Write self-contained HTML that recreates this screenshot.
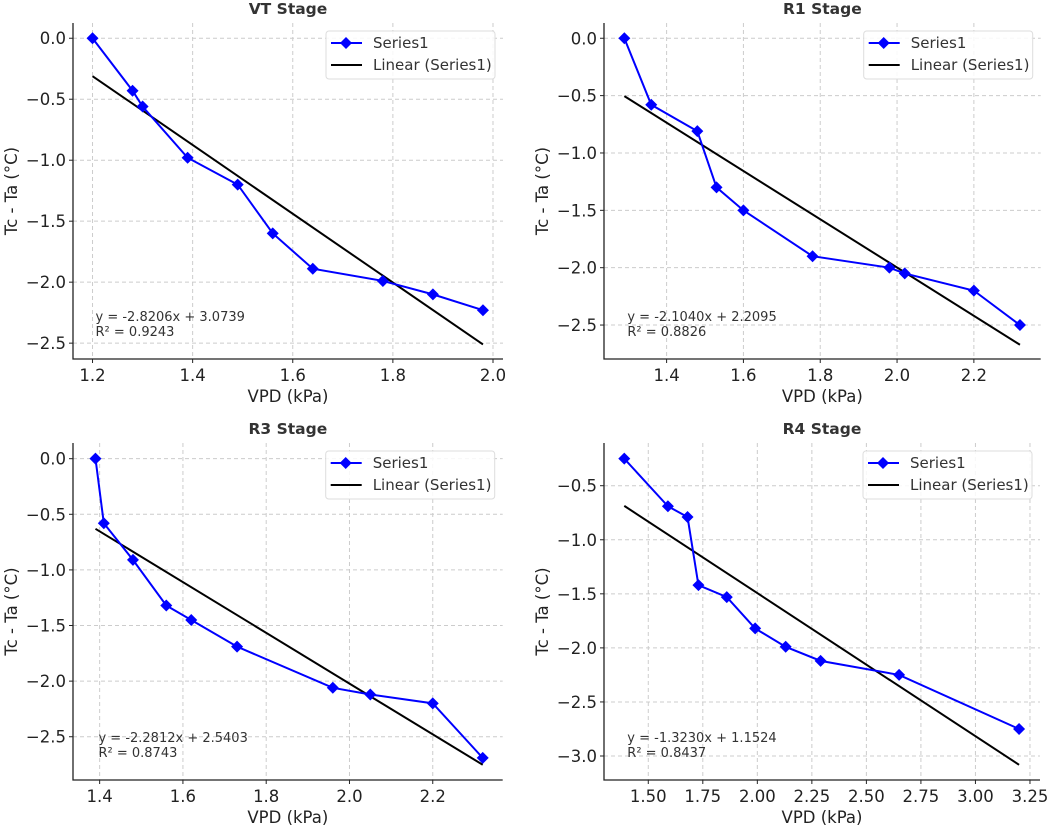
<!DOCTYPE html>
<html><head><meta charset="utf-8"><style>
body{margin:0;background:#fff;}
svg{display:block;font-family:"DejaVu Sans","Liberation Sans",sans-serif;}
</style></head><body>
<svg id="fig" width="1052" height="827" viewBox="0 0 1052 827"></svg>
<script>
const vtX=[1.2,1.28,1.30,1.39,1.49,1.56,1.64,1.78,1.88,1.98];
const vtY=[0,-0.43,-0.56,-0.98,-1.2,-1.6,-1.89,-1.99,-2.1,-2.23];
const r1X=[1.29,1.36,1.48,1.53,1.60,1.78,1.98,2.02,2.20,2.32];
const r1Y=[0,-0.58,-0.81,-1.3,-1.5,-1.9,-2.0,-2.05,-2.2,-2.5];
const r3X=[1.39,1.41,1.48,1.56,1.62,1.73,1.96,2.05,2.20,2.32];
const r3Y=[0,-0.58,-0.91,-1.32,-1.45,-1.69,-2.06,-2.12,-2.20,-2.69];
const r4X=[1.39,1.59,1.68,1.73,1.86,1.99,2.13,2.29,2.65,3.20];
const r4Y=[-0.25,-0.69,-0.79,-1.42,-1.53,-1.82,-1.99,-2.12,-2.25,-2.75];
const slopes=[-2.8206,-2.1040,-2.2812,-1.3230];
const intercepts=[3.0739,2.2095,2.5403,1.1524];
const r2s=["0.9243","0.8826","0.8743","0.8437"];
const titles=["VT Stage","R1 Stage","R3 Stage","R4 Stage"];
const xTicks1=[1.2,1.4,1.6,1.8,2.0];
const xTicks2=[1.4,1.6,1.8,2.0,2.2];
const xTicks3=[1.4,1.6,1.8,2.0,2.2];
const xTicks4=[1.5,1.75,2.0,2.25,2.5,2.75,3.0,3.25];
const yTicks1=[0,-0.5,-1,-1.5,-2,-2.5];
const yTicks4=[-0.5,-1,-1.5,-2,-2.5,-3];

const NS="http://www.w3.org/2000/svg";
const svg=document.getElementById('fig');
function mk(tag,attrs,parent,text){const e=document.createElementNS(NS,tag);for(const k in attrs)e.setAttribute(k,attrs[k]);if(text!==undefined)e.textContent=text;(parent||svg).appendChild(e);return e;}
function fmt(v,d){let s=v.toFixed(d);if(v<0)s='\u2212'+s.slice(1);return s;}

const panels=[
 {L:73,R:503,T:23,B:359,x0:1.161,x1:2.02,y0:-2.63,y1:0.125,xs:vtX,ys:vtY,xt:xTicks1,yt:yTicks1,xd:1,yd:1},
 {L:604,R:1040.7,T:23,B:359,x0:1.237,x1:2.374,y0:-2.796,y1:0.133,xs:r1X,ys:r1Y,xt:xTicks2,yt:yTicks1,xd:1,yd:1},
 {L:73,R:502.7,T:443,B:780,x0:1.336,x1:2.368,y0:-2.889,y1:0.141,xs:r3X,ys:r3Y,xt:xTicks3,yt:yTicks1,xd:1,yd:1},
 {L:604,R:1040,T:443,B:780,x0:1.297,x1:3.296,y0:-3.222,y1:-0.105,xs:r4X,ys:r4Y,xt:xTicks4,yt:yTicks4,xd:2,yd:1}
];
panels.forEach((p,i)=>{
 const g=mk('g',{});
 
 
 const sx=v=>p.L+(v-p.x0)/(p.x1-p.x0)*(p.R-p.L);
 const sy=v=>p.B-(v-p.y0)/(p.y1-p.y0)*(p.B-p.T);
 p.xt.forEach(t=>{const x=sx(t);
  const gl=mk('line',{x1:x,x2:x,y1:p.T,y2:p.B,stroke:'#ccc','stroke-width':1,'stroke-dasharray':'4,3'},g);
  
  mk('line',{x1:x,x2:x,y1:p.B,y2:p.B+4,stroke:'#222'},g);
  const tl=mk('text',{x:x,y:p.B+22,'text-anchor':'middle','font-size':16.5,fill:'#222'},g,t.toFixed(p.xd));
  
 });
 p.yt.forEach(t=>{const y=sy(t);
  const gl=mk('line',{x1:p.L,x2:p.R,y1:y,y2:y,stroke:'#ccc','stroke-width':1,'stroke-dasharray':'4,3'},g);
  
  mk('line',{x1:p.L-4,x2:p.L,y1:y,y2:y,stroke:'#222'},g);
  const tl=mk('text',{x:p.L-7,y:y+6,'text-anchor':'end','font-size':16.5,fill:'#222'},g,fmt(t,p.yd));
  
 });
 const ax=mk('path',{d:`M${p.L},${p.T} V${p.B} H${p.R}`,fill:'none',stroke:'#222','stroke-width':1.3},g);
 
 const xa=p.xs[0],xb=p.xs[p.xs.length-1];
 const tr=mk('line',{x1:sx(xa),y1:sy(slopes[i]*xa+intercepts[i]),x2:sx(xb),y2:sy(slopes[i]*xb+intercepts[i]),stroke:'#000','stroke-width':2},g);
 
 const pts=p.xs.map((x,k)=>sx(x)+','+sy(p.ys[k])).join(' ');
 const sl=mk('polyline',{points:pts,fill:'none',stroke:'#0000ff','stroke-width':2},g);
 
 p.xs.forEach((x,k)=>{const cx=sx(x),cy=sy(p.ys[k]);
  const m=mk('polygon',{points:`${cx},${cy-6} ${cx+6},${cy} ${cx},${cy+6} ${cx-6},${cy}`,fill:'#0000ff'},g);
  
 });
 const ex=sx(xa)+3;
 const e1=mk('text',{x:ex,y:p.B-38,'font-size':13,fill:'#333'},g,`y = ${slopes[i].toFixed(4)}x + ${intercepts[i].toFixed(4)}`);
 
 const e2=mk('text',{x:ex,y:p.B-23,'font-size':13,fill:'#333'},g,`R\u00b2 = ${r2s[i]}`);
 
 const cxm=(p.L+p.R)/2;
 const ti=mk('text',{x:cxm,y:p.T-9,'text-anchor':'middle','font-size':15.5,'font-weight':'bold',fill:'#333'},g,titles[i]);
 
 const xl=mk('text',{x:cxm,y:p.B+43,'text-anchor':'middle','font-size':16.5,fill:'#222'},g,'VPD (kPa)');
 
 const ym=(p.T+p.B)/2, yx=p.L-56;
 const yl=mk('text',{x:yx,y:ym,'text-anchor':'middle','font-size':16.5,fill:'#222',transform:`rotate(-90 ${yx} ${ym})`},g,'Tc - Ta (\u00b0C)');
 
 const lx=p.R-177,ly=p.T+8;
 const lg=mk('g',{},g);
 
 mk('rect',{x:lx,y:ly,width:169,height:48,rx:3,fill:'#fff','fill-opacity':0.85,stroke:'#ddd'},lg);
 mk('line',{x1:lx+5,x2:lx+36,y1:ly+12,y2:ly+12,stroke:'#0000ff','stroke-width':2},lg);
 mk('polygon',{points:`${lx+20},${ly+6} ${lx+26},${ly+12} ${lx+20},${ly+18} ${lx+14},${ly+12}`,fill:'#0000ff'},lg);
 const t1=mk('text',{x:lx+47,y:ly+17,'font-size':15,fill:'#333'},lg,'Series1');
 
 mk('line',{x1:lx+5,x2:lx+36,y1:ly+34,y2:ly+34,stroke:'#000','stroke-width':2},lg);
 const t2=mk('text',{x:lx+47,y:ly+39,'font-size':15,fill:'#333'},lg,'Linear (Series1)');
 
});
</script>
</body></html>
